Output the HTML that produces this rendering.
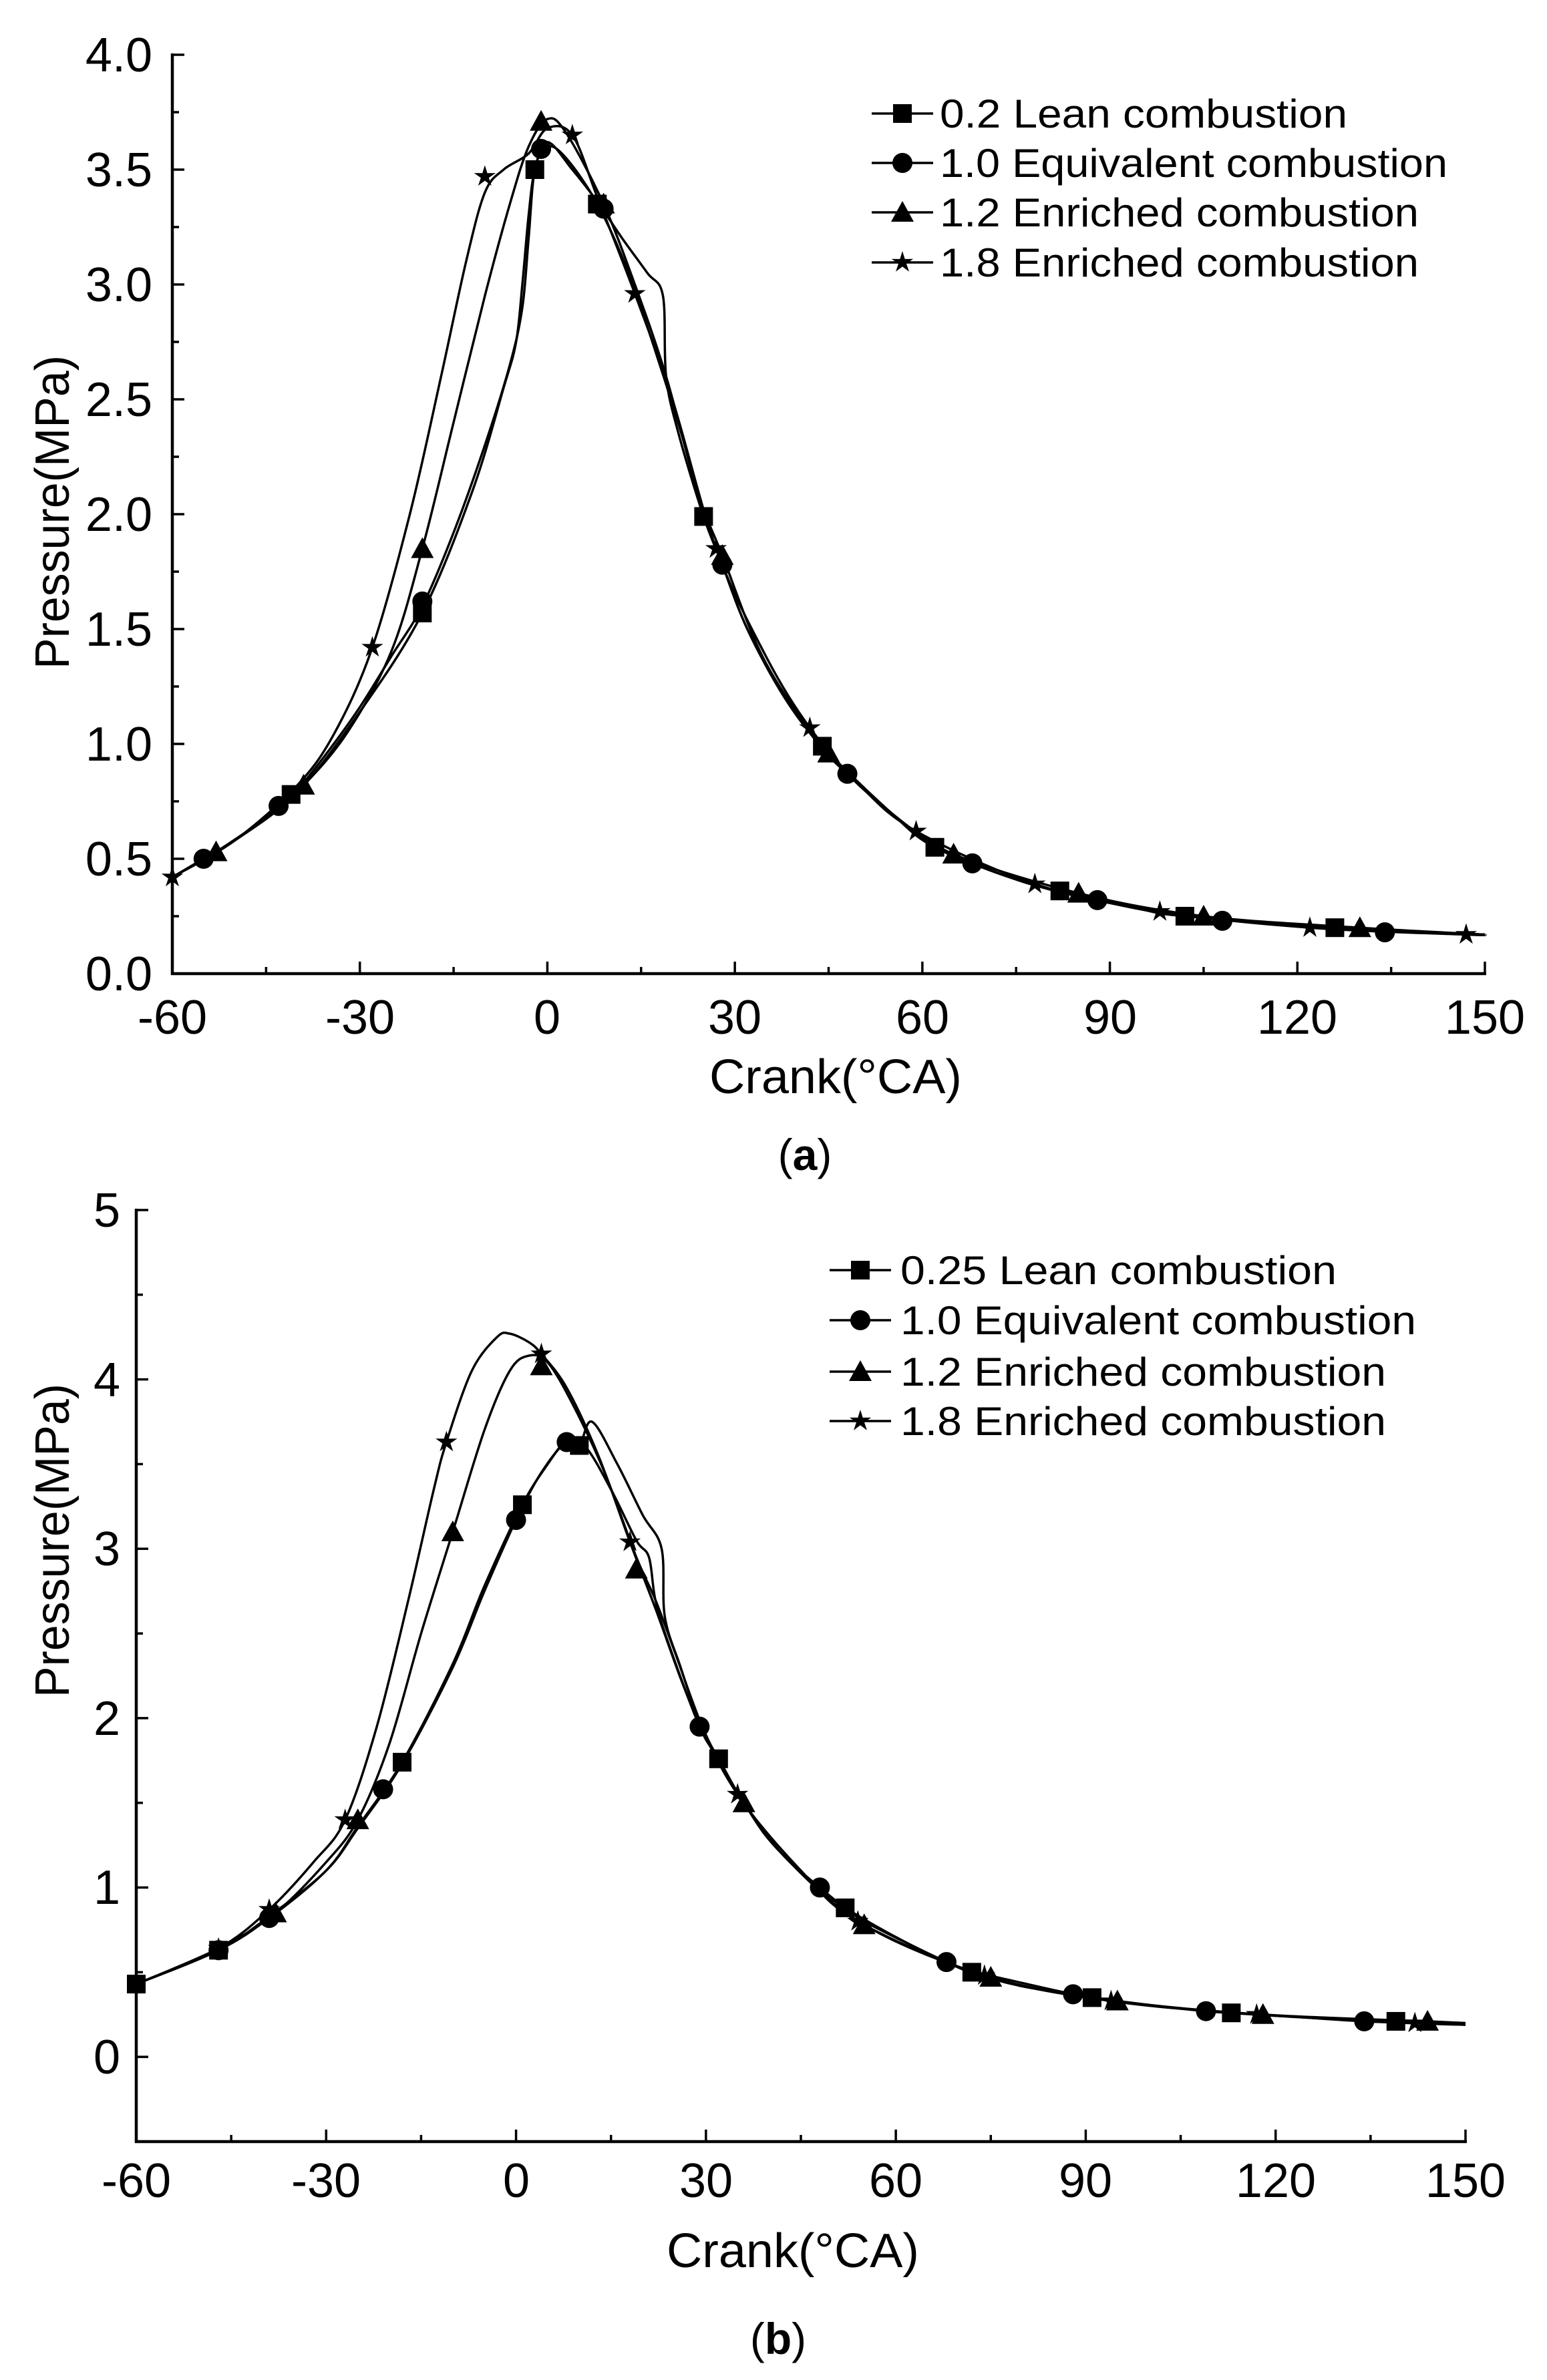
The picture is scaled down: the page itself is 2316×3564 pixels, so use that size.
<!DOCTYPE html>
<html><head><meta charset="utf-8"><style>
html,body{margin:0;padding:0;background:#fff}
svg{display:block}
text{font-family:"Liberation Sans",Arial,sans-serif;fill:#000}
</style></head><body>
<svg id="s" width="2316" height="3564" viewBox="0 0 2316 3564" xmlns="http://www.w3.org/2000/svg">
<g id="g"></g>
<!-- Chart a labels -->
<g font-size="72" text-anchor="end">
<text x="228" y="107">4.0</text><text x="228" y="279">3.5</text><text x="228" y="451">3.0</text>
<text x="228" y="623">2.5</text><text x="228" y="795">2.0</text><text x="228" y="967">1.5</text>
<text x="228" y="1139">1.0</text><text x="228" y="1311">0.5</text><text x="228" y="1483">0.0</text>
</g>
<g font-size="72" text-anchor="middle">
<text x="258" y="1548">-60</text><text x="539" y="1548">-30</text><text x="819" y="1548">0</text>
<text x="1100" y="1548">30</text><text x="1381" y="1548">60</text><text x="1662" y="1548">90</text>
<text x="1942" y="1548">120</text><text x="2223" y="1548">150</text>
<text x="1251" y="1637" textLength="378" lengthAdjust="spacingAndGlyphs">Crank(°CA)</text>
</g>
<text x="79" y="767" font-size="72" text-anchor="middle" transform="rotate(-90 79 767)" dy="24" textLength="470" lengthAdjust="spacingAndGlyphs">Pressure(MPa)</text>
<text x="1205" y="1752" font-size="66" text-anchor="middle" font-family="Liberation Serif,serif">(<tspan font-weight="bold">a</tspan>)</text>
<g font-size="60">
<text x="1407" y="191" textLength="610" lengthAdjust="spacingAndGlyphs">0.2 Lean combustion</text>
<text x="1407" y="265" textLength="760" lengthAdjust="spacingAndGlyphs">1.0 Equivalent combustion</text>
<text x="1407" y="339" textLength="717" lengthAdjust="spacingAndGlyphs">1.2 Enriched combustion</text>
<text x="1407" y="414" textLength="717" lengthAdjust="spacingAndGlyphs">1.8 Enriched combustion</text>
</g>
<!-- Chart b labels -->
<g font-size="72" text-anchor="end">
<text x="180" y="1837">5</text><text x="180" y="2091">4</text><text x="180" y="2344">3</text>
<text x="180" y="2598">2</text><text x="180" y="2851">1</text><text x="180" y="3105">0</text>
</g>
<g font-size="72" text-anchor="middle">
<text x="204" y="3290">-60</text><text x="488" y="3290">-30</text><text x="773" y="3290">0</text>
<text x="1057" y="3290">30</text><text x="1341" y="3290">60</text><text x="1625" y="3290">90</text>
<text x="1910" y="3290">120</text><text x="2194" y="3290">150</text>
<text x="1187" y="3395" textLength="378" lengthAdjust="spacingAndGlyphs">Crank(°CA)</text>
</g>
<text x="79" y="2307" font-size="72" text-anchor="middle" transform="rotate(-90 79 2307)" dy="24" textLength="470" lengthAdjust="spacingAndGlyphs">Pressure(MPa)</text>
<text x="1165" y="3525" font-size="66" text-anchor="middle" font-family="Liberation Serif,serif">(<tspan font-weight="bold">b</tspan>)</text>
<g font-size="60">
<text x="1348" y="1923" textLength="653" lengthAdjust="spacingAndGlyphs">0.25 Lean combustion</text>
<text x="1348" y="1998" textLength="772" lengthAdjust="spacingAndGlyphs">1.0 Equivalent combustion</text>
<text x="1348" y="2075" textLength="727" lengthAdjust="spacingAndGlyphs">1.2 Enriched combustion</text>
<text x="1348" y="2149" textLength="727" lengthAdjust="spacingAndGlyphs">1.8 Enriched combustion</text>
</g>
</svg>
<script>
var NS="http://www.w3.org/2000/svg",G=document.getElementById("g");
function el(t,a){var e=document.createElementNS(NS,t);for(var k in a)e.setAttribute(k,a[k]);G.appendChild(e);return e;}
function line(x1,y1,x2,y2,w){el("line",{x1:x1,y1:y1,x2:x2,y2:y2,stroke:"#000","stroke-width":w||4});}
function path(pts){var d="M"+pts[0][0]+","+pts[0][1];for(var i=0;i<pts.length-1;i++){var p0=pts[i-1]||pts[i],p1=pts[i],p2=pts[i+1],p3=pts[i+2]||p2;
d+=" C"+(p1[0]+(p2[0]-p0[0])/6)+","+(p1[1]+(p2[1]-p0[1])/6)+" "+(p2[0]-(p3[0]-p1[0])/6)+","+(p2[1]-(p3[1]-p1[1])/6)+" "+p2[0]+","+p2[1];}
el("path",{d:d,fill:"none",stroke:"#000","stroke-width":3.5});}
function marker(t,x,y){var r=14;
if(t=="s")el("rect",{x:x-r,y:y-r,width:2*r,height:2*r,fill:"#000"});
else if(t=="c")el("circle",{cx:x,cy:y,r:r+1,fill:"#000"});
else if(t=="t")el("polygon",{points:(x)+","+(y-r-3)+" "+(x-r-3)+","+(y+r)+" "+(x+r+3)+","+(y+r),fill:"#000"});
else{var p=[];for(var i=0;i<10;i++){var a=-Math.PI/2+i*Math.PI/5,rr=i%2?r*0.45:r+3;p.push((x+rr*Math.cos(a))+","+(y+rr*Math.sin(a)));}el("polygon",{points:p.join(" "),fill:"#000"});}}
function chart(C){
var X=function(c){return C.x0+(c+60)*(C.x1-C.x0)/210},Y=function(p){return C.yb-(p-C.pmin)*(C.yb-C.yt)/(C.pmax-C.pmin)};
line(C.x0,C.yt-2,C.x0,C.yb+2,4.5);line(C.x0-2,C.yb,C.x1+2,C.yb,4.5);
for(var c=-60;c<=150;c+=15){var L=(c%30==0)?18:10;line(X(c),C.yb,X(c),C.yb-L,3.5);}
var n=Math.round((C.pmax-C.pmin)/C.minor);
for(var i=0;i<=n;i++){var p=C.pmin+i*C.minor;var q=p/C.major;var maj=Math.abs(q-Math.round(q))<1e-6;line(C.x0,Y(p),C.x0+(maj?18:10),Y(p),3.5);}
C.series.forEach(function(s){path(s.pts.map(function(q){return[X(q[0]),Y(q[1])]}));s.m.forEach(function(q){marker(s.t,X(q[0]),Y(q[1]));});});
C.leg.forEach(function(l,i){line(C.lx0,l,C.lx1,l,3.5);marker(["s","c","t","st"][i],(C.lx0+C.lx1)/2,l);});
}
var baseA=[[-60,0.42],[-55,0.5],[-50,0.58],[-43,0.73],[-40,0.8],[-35,0.97],[-30,1.16],[-25,1.38],[-20,1.6],[-15,1.92],[-10,2.3],[-6,2.65],[-4,2.9],[-3,3.2],[-2,3.5],[0,3.6],[3,3.55],[8,3.35],[13,3.05],[18,2.65],[22,2.3],[25,2.0],[28,1.78],[32,1.5],[38,1.2],[44,0.98],[48,0.87],[55,0.7],[62,0.56],[68,0.48],[75,0.41],[82,0.355],[88,0.32],[95,0.28],[103,0.25],[110,0.23],[120,0.21],[130,0.19],[140,0.18],[150,0.17]];
var leanA=[[-60,0.42],[-50,0.58],[-40,0.79],[-30,1.14],[-20,1.57],[-12,2.1],[-7,2.55],[-5,2.75],[-4,3.0],[-3,3.3],[-2,3.5],[0,3.62],[4,3.5],[8,3.36],[12,3.2],[16,3.05],[18.5,2.95],[19,2.6],[21,2.35],[25,1.99],[28,1.78],[32,1.5],[38,1.2],[44,0.99],[55,0.7],[62,0.55],[75,0.41],[82,0.36],[95,0.28],[102,0.25],[126,0.2],[150,0.17]];
var a12=[[-60,0.42],[-53,0.53],[-45,0.68],[-39,0.82],[-32,1.05],[-25,1.4],[-20,1.85],[-15,2.4],[-10,2.95],[-6,3.35],[-3,3.6],[0,3.72],[3,3.66],[9,3.35],[14,3.0],[19,2.6],[24,2.1],[28,1.82],[35,1.35],[45,0.96],[55,0.7],[65,0.52],[85,0.35],[105,0.25],[130,0.2],[150,0.17]];
var a18=[[-60,0.42],[-50,0.58],[-40,0.82],[-34,1.05],[-28,1.42],[-22,2.0],[-17,2.6],[-13,3.1],[-10,3.4],[-7,3.5],[-3,3.57],[0,3.68],[4,3.65],[8,3.38],[14,2.96],[20,2.5],[27,1.85],[35,1.38],[42,1.07],[50,0.82],[59,0.62],[78,0.39],[98,0.27],[122,0.2],[147,0.17],[150,0.17]];
chart({x0:258,x1:2223,yt:82,yb:1458,pmin:0,pmax:4,major:0.5,minor:0.25,lx0:1305,lx1:1397,leg:[170,244,318,393],
series:[
{t:"c",pts:baseA,m:[[-55,0.5],[-43,0.73],[-20,1.62],[-1,3.59],[9,3.33],[28,1.78],[48,0.87],[68,0.48],[88,0.32],[108,0.23],[134,0.18]]},
{t:"s",pts:leanA,m:[[-41,0.78],[-20,1.57],[-2,3.5],[8,3.35],[25,1.99],[44,0.99],[62,0.55],[82,0.36],[102,0.25],[126,0.2]]},
{t:"t",pts:a12,m:[[-53,0.53],[-39,0.82],[-20,1.85],[-1,3.71],[9,3.35],[28,1.82],[45,0.96],[65,0.52],[85,0.35],[105,0.25],[130,0.2]]},
{t:"st",pts:a18,m:[[-60,0.42],[-28,1.42],[-10,3.47],[4,3.65],[14,2.96],[27,1.85],[42,1.07],[59,0.62],[78,0.39],[98,0.27],[122,0.2],[147,0.17]]}]});
var baseB=[[-60,0.43],[-47,0.63],[-39,0.83],[-30,1.1],[-25,1.35],[-18,1.73],[-10,2.3],[-5,2.75],[0,3.17],[4,3.45],[8,3.63],[11,3.6],[15,3.35],[19,3.05],[21,2.95],[22,2.7],[24,2.45],[29,1.95],[32,1.76],[36,1.5],[42,1.2],[48,1.0],[52,0.88],[56,0.78],[68,0.56],[72,0.5],[76,0.47],[88,0.37],[95,0.33],[109,0.27],[118,0.25],[134,0.21],[150,0.19]];
var b12=[[-60,0.43],[-47,0.64],[-38,0.85],[-30,1.15],[-25,1.4],[-20,1.85],[-15,2.5],[-10,3.1],[-5,3.7],[-1,4.05],[2,4.14],[5,4.1],[9,3.85],[14,3.45],[19,2.95],[22,2.7],[25,2.4],[30,1.9],[36,1.5],[42,1.2],[55,0.78],[75,0.47],[95,0.33],[118,0.25],[144,0.21],[150,0.2]];
var b18=[[-60,0.43],[-47,0.64],[-39,0.87],[-32,1.15],[-27,1.4],[-22,1.95],[-17,2.7],[-13,3.35],[-11,3.63],[-7,4.05],[-3,4.25],[-1,4.27],[2,4.22],[4,4.15],[8,3.95],[13,3.55],[18,3.04],[22,2.65],[28,2.05],[35,1.55],[45,1.1],[54,0.8],[74,0.48],[94,0.33],[117,0.25],[142,0.2],[150,0.19]];
var leanB=[[-60,0.43],[-47,0.63],[-39,0.82],[-30,1.1],[-25,1.36],[-18,1.74],[-10,2.32],[-5,2.78],[1,3.26],[5,3.5],[8,3.64],[10,3.61],[12,3.75],[16,3.5],[20,3.2],[23,3.0],[23.5,2.6],[26,2.3],[29,1.97],[32,1.76],[36,1.5],[42,1.2],[52,0.88],[72,0.5],[91,0.35],[113,0.26],[139,0.21],[150,0.19]];
chart({x0:204,x1:2194,yt:1812,yb:3207,pmin:-0.5,pmax:5,major:1,minor:0.5,lx0:1242,lx1:1334,leg:[1902,1977,2054,2128],
series:[
{t:"c",pts:baseB,m:[[-47,0.63],[-39,0.82],[-21,1.58],[0,3.17],[8,3.63],[29,1.95],[48,1.0],[68,0.56],[88,0.37],[109,0.27],[134,0.21]]},
{t:"s",pts:leanB,m:[[-60,0.43],[-47,0.63],[-18,1.74],[1,3.26],[10,3.61],[32,1.76],[52,0.88],[72,0.5],[91,0.35],[113,0.26],[139,0.21]]},
{t:"t",pts:b12,m:[[-38,0.85],[-25,1.4],[-10,3.1],[4,4.08],[19,2.88],[36,1.5],[55,0.78],[75,0.47],[95,0.33],[118,0.25],[144,0.21]]},
{t:"st",pts:b18,m:[[-47,0.64],[-39,0.87],[-27,1.4],[-11,3.63],[4,4.15],[18,3.04],[35,1.55],[54,0.8],[74,0.48],[94,0.33],[117,0.25],[142,0.2]]}]});
</script>
</body></html>
